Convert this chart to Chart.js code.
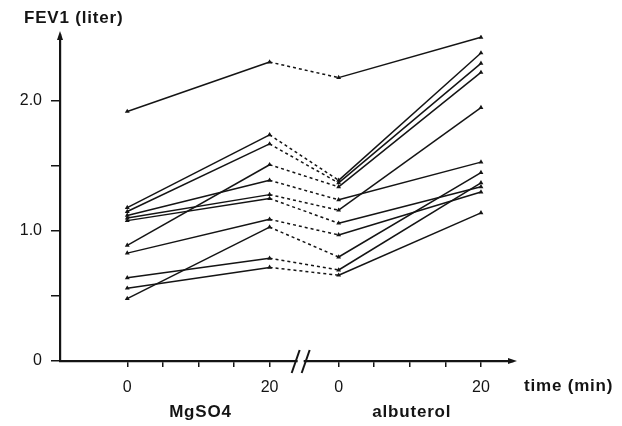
<!DOCTYPE html>
<html lang="en">
<head>
    <meta charset="UTF-8">
    <title>FEV1 after MgSO4 and albuterol</title>
    <script src="https://cdn.jsdelivr.net/npm/chart.js"></script>
    <style>
        body {
            margin: 0;
            background: #fff;
        }

        .wrap {
            position: relative;
            width: 622px;
            height: 426px;
        }
    </style>
</head>
<body>
    <div class="wrap"><canvas id="fevChart"></canvas></div>

    <script>
        // albuterol "0" sits here on the shared time axis, right after the break
        const albShift = 29.7;

        // FEV1 (liter) of each patient at the four measurements
        const mg0   = [1.92, 1.18, 1.15, 0.89, 1.12, 1.10, 1.08, 0.83, 0.48, 0.64, 0.56];
        const mg20  = [2.30, 1.74, 1.67, 1.51, 1.39, 1.28, 1.25, 1.09, 1.03, 0.79, 0.72];
        const alb0  = [2.18, 1.39, 1.37, 1.34, 1.24, 1.16, 1.06, 0.97, 0.80, 0.70, 0.66];
        const alb20 = [2.49, 2.37, 2.29, 2.22, 1.53, 1.95, 1.34, 1.30, 1.45, 1.37, 1.14];

        const mgTimes  = [0, 20];
        const albTimes = [0, 20];

        const xTicks = [0, 5, 10, 15, 20, 0, 5, 10, 15, 20].map((t, i) => i < 5 ? t : t + albShift);
        const xTickLabels = ['0', '', '', '', '20', '0', '', '', '', '20'];
        const yTicks = [0, 0.5, 1.0, 1.5, 2.0];
        const yTickLabels = ['0', '', '1.0', '', '2.0'];

        const ink = '#141414';
        const tickFont = { family: '"Liberation Sans", Arial, sans-serif', size: 16 };

        const datasets = mg0.map((v, i) => ({
            data: [
                { x: mgTimes[0], y: v },
                { x: mgTimes[1], y: mg20[i] },
                { x: albTimes[0] + albShift, y: alb0[i] },
                { x: albTimes[1] + albShift, y: alb20[i] }
            ],
            borderColor: ink,
            backgroundColor: ink,
            borderWidth: 1.5,
            pointStyle: 'triangle',
            pointRadius: 2.8,
            pointBorderWidth: 0,
            segment: {
                // washout between the two treatments is drawn dashed
                borderDash: ctx => ctx.p0DataIndex === 1 ? [3, 3] : undefined
            }
        }));

        const decor = {
            id: 'decor',
            afterDraw(chart) {
                const { ctx, scales: { x, y } } = chart;
                const left = x.left, right = x.right, top = y.top, bottom = y.bottom;
                ctx.save();
                ctx.fillStyle = ink;
                ctx.strokeStyle = ink;

                // arrow heads
                ctx.beginPath();
                ctx.moveTo(left, top - 4);
                ctx.lineTo(left - 3, top + 5);
                ctx.lineTo(left + 3, top + 5);
                ctx.fill();
                ctx.beginPath();
                ctx.moveTo(right + 4, bottom);
                ctx.lineTo(right - 5, bottom - 3);
                ctx.lineTo(right - 5, bottom + 3);
                ctx.fill();

                // axis break //
                const bx = x.getPixelForValue(20) + 0.45 * (x.getPixelForValue(albShift) - x.getPixelForValue(20));
                ctx.fillStyle = '#fff';
                ctx.fillRect(bx - 3, bottom - 2, 6, 4);
                ctx.lineWidth = 2;
                [-5, 5].forEach(dx => {
                    ctx.beginPath();
                    ctx.moveTo(bx + dx - 4, bottom + 12);
                    ctx.lineTo(bx + dx + 4, bottom - 11);
                    ctx.stroke();
                });

                // titles
                ctx.fillStyle = ink;
                ctx.font = 'bold 17px "Liberation Sans", Arial, sans-serif';
                ctx.letterSpacing = '0.8px';
                ctx.textBaseline = 'middle';
                ctx.textAlign = 'left';
                ctx.fillText('FEV1 (liter)', 24, 18);
                ctx.fillText('time (min)', 524, 386);
                ctx.textAlign = 'center';
                ctx.fillText('MgSO4', x.getPixelForValue(10) + 2, 412);
                ctx.fillText('albuterol', x.getPixelForValue(albShift + 10) + 2, 412);
                ctx.restore();
            }
        };

        new Chart(document.getElementById('fevChart'), {
            type: 'line',
            data: { datasets },
            plugins: [decor],
            options: {
                responsive: true,
                maintainAspectRatio: false,
                animation: false,
                layout: { padding: { top: 35, right: 109, left: 0, bottom: 0 } },
                plugins: {
                    legend: { display: false },
                    tooltip: { enabled: false }
                },
                scales: {
                    x: {
                        type: 'linear',
                        min: -9.45,
                        max: 54.2,
                        afterFit: s => { s.height = 65; },
                        afterBuildTicks: s => { s.ticks = xTicks.map(v => ({ value: v })); },
                        ticks: {
                            autoSkip: false,
                            maxRotation: 0,
                            padding: 11,
                            color: ink,
                            font: tickFont,
                            callback: (v, i) => xTickLabels[i]
                        },
                        grid: { drawOnChartArea: false, tickLength: 6, color: ink, lineWidth: 1.5 },
                        border: { color: ink, width: 2.2 }
                    },
                    y: {
                        min: 0,
                        max: 2.508,
                        afterFit: s => { s.width = 60; },
                        afterBuildTicks: s => { s.ticks = yTicks.map(v => ({ value: v })); },
                        ticks: {
                            padding: 9,
                            color: ink,
                            font: tickFont,
                            callback: (v, i) => yTickLabels[i]
                        },
                        grid: { drawOnChartArea: false, tickLength: 9, color: ink, lineWidth: 1.5 },
                        border: { color: ink, width: 2.2 }
                    }
                }
            }
        });
    </script>
</body>
</html>
